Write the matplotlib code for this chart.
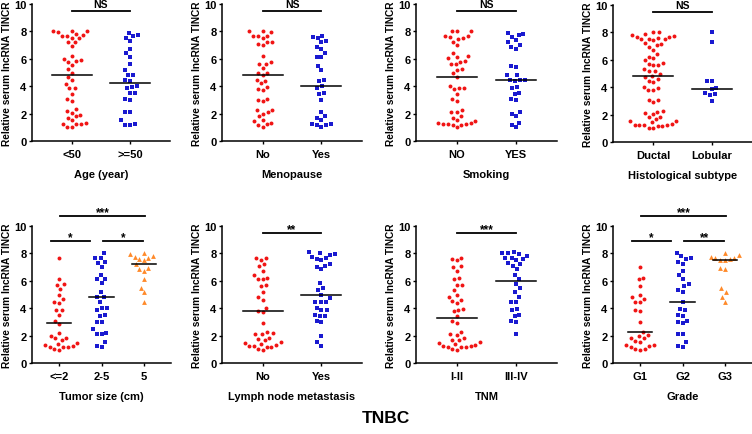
import matplotlib.pyplot as plt
import numpy as np

plt.rcParams['font.family'] = 'Liberation Sans'
plt.rcParams['font.weight'] = 'bold'
plt.rcParams['axes.labelweight'] = 'bold'

# ---- values (relative serum lncRNA TINCR) ----
# Age (year)
age_lt50 = [8.0, 7.95, 8.0, 8.05, 7.8, 7.75, 7.7, 7.7, 7.5, 7.55, 7.25, 7.2, 6.9, 6.2, 5.9, 6.0,
            5.85, 5.75, 5.55, 5.25, 4.95, 4.65, 4.45, 4.15, 3.85, 3.85, 3.45, 3.1, 2.95, 2.3, 2.2,
            2.05, 1.9, 1.8, 1.7, 1.5, 1.35, 1.25, 1.25, 1.25, 1.05, 1.0]
age_ge50 = [7.85, 7.75, 7.65, 7.5, 7.3, 6.75, 6.4, 6.15, 5.6, 5.2, 4.85, 4.85, 4.45, 4.4, 4.05,
            3.95, 3.9, 3.5, 3.5, 3.05, 3.0, 2.15, 2.15, 1.5, 1.25, 1.2, 1.2]
# Menopause
meno_no = [8.05, 8.0, 7.95, 7.7, 7.65, 7.7, 7.55, 7.25, 7.2, 7.05, 7.0, 6.2, 5.75, 5.65, 5.6, 5.35,
           5.0, 4.95, 4.8, 4.4, 4.45, 4.2, 3.95, 3.8, 3.75, 3.1, 3.0, 2.95, 2.25, 2.25, 2.15, 2.0,
           1.8, 1.5, 1.45, 1.3, 1.25, 1.2, 1.0]
meno_yes = [7.7, 7.6, 7.5, 7.3, 7.2, 6.85, 6.7, 6.4, 6.15, 6.1, 5.5, 5.2, 4.45, 4.4, 4.0, 3.85,
            3.5, 3.4, 3.0, 2.15, 1.8, 1.7, 1.5, 1.25, 1.25, 1.2, 1.2, 1.0]
# Smoking
smoke_no = [8.05, 8.0, 8.0, 7.7, 7.6, 7.7, 7.55, 7.45, 7.2, 7.0, 6.4, 6.2, 6.15, 6.05, 5.85, 5.75,
            5.65, 5.65, 5.25, 5.2, 4.95, 4.65, 4.05, 3.9, 3.85, 3.8, 3.45, 3.1, 2.95, 2.25, 2.15,
            2.15, 1.8, 1.7, 1.5, 1.45, 1.35, 1.3, 1.25, 1.25, 1.25, 1.2, 1.2, 1.0]
smoke_yes = [7.85, 7.8, 7.75, 7.6, 7.35, 7.2, 7.0, 6.85, 6.75, 5.5, 5.4, 4.85, 4.8, 4.45, 4.45,
             4.45, 4.4, 3.95, 3.85, 3.5, 3.45, 3.05, 3.0, 2.15, 2.0, 1.85, 1.35, 1.15, 1.0]
# Histological subtype
ductal = [8.05, 8.0, 7.9, 7.8, 7.75, 7.7, 7.65, 7.6, 7.55, 7.5, 7.5, 7.45, 7.2, 7.1, 7.15, 6.9,
          6.75, 6.4, 6.2, 6.1, 5.95, 5.75, 5.7, 5.65, 5.6, 5.3, 5.2, 5.15, 5.0, 4.85, 4.75, 4.6,
          4.45, 4.4, 4.0, 3.95, 3.8, 3.8, 3.1, 3.05, 2.95, 2.25, 2.2, 2.15, 2.05, 1.85, 1.8, 1.7,
          1.55, 1.5, 1.45, 1.3, 1.25, 1.25, 1.25, 1.25, 1.2, 1.2, 1.05, 1.0]
lobular = [8.0, 7.3, 4.45, 4.45, 3.95, 3.9, 3.55, 3.5, 3.45, 3.0]
# Tumor size (cm)
size_le2 = [7.7, 6.1, 5.75, 5.7, 5.4, 4.95, 4.7, 4.4, 4.45, 3.9, 3.85, 3.5, 3.1, 2.85, 2.2, 2.0,
            1.8, 1.85, 1.65, 1.4, 1.45, 1.35, 1.25, 1.2, 1.2, 1.2, 1.0, 0.95]
size_2_5 = [8.0, 7.65, 7.65, 7.35, 7.3, 7.0, 6.4, 6.15, 6.1, 5.85, 5.2, 4.8, 4.8, 4.45, 4.0, 4.0,
            3.85, 3.5, 3.45, 3.0, 3.0, 2.45, 2.2, 2.15, 2.15, 1.5, 1.25, 1.2]
size_5 = [8.05, 7.95, 7.8, 7.75, 7.65, 7.6, 7.5, 7.2, 6.9, 6.85, 6.75, 6.15, 5.5, 5.15, 4.45]
# Lymph node metastasis
lymph_no = [7.7, 7.65, 7.55, 7.2, 7.05, 6.75, 6.4, 6.2, 6.1, 6.1, 5.7, 5.65, 5.2, 4.8, 4.6, 4.05,
            3.8, 3.75, 2.9, 2.25, 2.2, 2.15, 2.1, 1.85, 1.75, 1.7, 1.5, 1.45, 1.4, 1.3, 1.25,
            1.25, 1.2, 1.2, 1.0, 0.95]
lymph_yes = [8.1, 8.0, 7.95, 7.9, 7.75, 7.7, 7.6, 7.55, 7.25, 7.1, 7.0, 6.85, 5.85, 5.45, 5.3,
             4.95, 4.75, 4.45, 4.45, 4.45, 4.0, 3.9, 3.85, 3.5, 3.45, 3.45, 3.05, 3.0, 2.0, 1.5,
             1.25]
# TNM
tnm_12 = [7.7, 7.6, 7.5, 7.05, 7.0, 6.75, 6.2, 6.1, 5.7, 5.7, 5.35, 5.0, 4.8, 4.6, 4.5, 4.35,
          3.95, 3.9, 3.8, 3.45, 3.1, 2.95, 2.25, 2.15, 2.05, 1.85, 1.7, 1.65, 1.5, 1.45, 1.4,
          1.3, 1.25, 1.2, 1.2, 1.2, 1.25, 1.0, 0.95]
tnm_34 = [8.1, 8.05, 7.95, 8.0, 7.8, 7.7, 7.65, 7.6, 7.55, 7.3, 7.2, 7.05, 6.85, 6.4, 6.1, 5.75,
          5.45, 5.2, 4.85, 4.45, 4.45, 3.95, 3.85, 3.5, 3.45, 3.05, 3.0, 2.15]
# Grade
grade_1 = [7.0, 6.2, 6.1, 5.65, 4.95, 4.8, 4.7, 4.45, 4.45, 3.85, 3.8, 3.0, 2.25, 2.05, 2.0, 1.8,
           1.85, 1.6, 1.55, 1.35, 1.35, 1.25, 1.2, 1.05, 1.0, 0.95]
grade_2 = [8.0, 7.8, 7.65, 7.6, 7.35, 7.25, 6.75, 6.4, 6.1, 5.75, 5.65, 5.35, 5.2, 4.45, 3.95,
           3.85, 3.5, 3.45, 3.1, 3.0, 2.95, 2.15, 2.15, 1.5, 1.25, 1.2]
grade_3 = [8.05, 7.9, 7.75, 7.7, 7.65, 7.6, 7.55, 7.5, 6.9, 6.85, 5.45, 5.2, 4.85, 4.45]

# median lines as drawn in the figure
medians = [[4.8, 4.25], [4.85, 4.0], [4.65, 4.45], [4.85, 3.9],
           [2.9, 4.8, 7.25], [3.8, 4.95], [3.3, 6.0], [2.25, 4.45, 7.5]]

xlabels = ['Age (year)', 'Menopause', 'Smoking', 'Histological subtype',
           'Tumor size (cm)', 'Lymph node metastasis', 'TNM', 'Grade']
categories = [['<50', '>=50'], ['No', 'Yes'], ['NO', 'YES'], ['Ductal', 'Lobular'],
              ['<=2', '2-5', '5'], ['No', 'Yes'], ['I-II', 'III-IV'], ['G1', 'G2', 'G3']]
groups = [[age_lt50, age_ge50], [meno_no, meno_yes], [smoke_no, smoke_yes], [ductal, lobular],
          [size_le2, size_2_5, size_5], [lymph_no, lymph_yes], [tnm_12, tnm_34],
          [grade_1, grade_2, grade_3]]
# significance: (group a, group b, label)
tests = [[(0, 1, 'NS')], [(0, 1, 'NS')], [(0, 1, 'NS')], [(0, 1, 'NS')],
         [(0, 1, '*'), (1, 2, '*'), (0, 2, '***')], [(0, 1, '**')], [(0, 1, '***')],
         [(0, 1, '*'), (1, 2, '**'), (0, 2, '***')]]

colors = ['#f01414', '#1a1ad0', '#ff8a2a']
markers = ['o', 's', '^']

W, H = 752, 435
# axes extents in pixels: (left, right, y of value 0, y of value 10)
boxes = [(32, 170, 142, 5), (222, 362, 142, 5), (416, 557, 142, 5), (613, 752, 143, 6),
         (32, 171, 364, 227), (222, 362, 364, 227), (416, 557, 364, 227), (613, 752, 364, 227)]


def swarm(vals, ux, uy, dx=4.8, dy=6.5):
    # beeswarm with an elliptical keep-out zone (dx wide, dy tall, in pixels)
    vals = np.asarray(vals)
    placed = []
    offs = np.zeros(len(vals))
    for i in np.argsort(vals):
        y = vals[i] * uy
        spans = []
        for px, py in placed:
            t = abs(py - y) / dy
            if t < 1:
                w = dx * np.sqrt(1 - t * t)
                spans.append((px - w, px + w))
        cands = [0.0] + [e for s in spans for e in s]
        cands.sort(key=lambda c: (abs(c), c))
        for c in cands:
            if all(not (lo + 1e-6 < c < hi - 1e-6) for lo, hi in spans):
                break
        placed.append((c, y))
        offs[i] = c / ux
    return offs


fig = plt.figure(figsize=(W / 100, H / 100), dpi=100)

for k in range(8):
    x0, x1, yb, yt = boxes[k]
    ax = fig.add_axes([x0 / W, 1 - yb / H, (x1 - x0) / W, (yb - yt) / H])
    n = len(categories[k])
    m = 0.69 if n == 2 else 0.64
    ax.set_xlim(-m, n - 1 + m)
    ax.set_ylim(0, 10)
    ux = (x1 - x0) / (n - 1 + 2 * m)
    uy = (yb - yt) / 10.0

    for g in range(n):
        vals = groups[k][g]
        xs = g + swarm(vals, ux, uy)
        ms = 9 if markers[g] == 's' else (12 if markers[g] == '^' else 8)
        ax.scatter(xs, vals, s=ms, marker=markers[g], color=colors[g], linewidths=0,
                   clip_on=False, zorder=3)
        hw = 0.34 if n == 2 else 0.29
        ax.plot([g - hw, g + hw], [medians[k][g]] * 2, color='black', lw=1.1, zorder=4)

    for a, b, lab in tests[k]:
        if n == 2:
            xa, xb, yy = a, b, 9.5
        elif b - a == 2:
            xa, xb, yy = a + 0.03, b + 0.03, 10.75
        elif a == 0:
            xa, xb, yy = -0.2, 0.72, 8.9
        else:
            xa, xb, yy = 1.04, 1.99, 8.9
        ax.plot([xa, xb], [yy, yy], color='black', lw=1.3, clip_on=False)
        if lab == 'NS':
            ax.annotate(lab, ((xa + xb) / 2, yy), xytext=(0, 1.5), textcoords='offset points',
                        ha='center', va='bottom', fontsize=7.5, annotation_clip=False)
        else:
            ax.annotate(lab, ((xa + xb) / 2, yy), xytext=(0, -1.5), textcoords='offset points',
                        ha='center', va='bottom', fontsize=8.5, annotation_clip=False)

    ax.set_xticks(range(n))
    ax.set_xticklabels(categories[k], fontsize=8)
    ax.set_yticks([0, 2, 4, 6, 8, 10])
    ax.tick_params(axis='y', labelsize=8, length=2.5, width=1, pad=1.5)
    ax.tick_params(axis='x', length=2.5, width=1, pad=3)
    for s in ['top', 'right']:
        ax.spines[s].set_visible(False)
    for s in ['left', 'bottom']:
        ax.spines[s].set_linewidth(1.1)
    ax.set_ylabel('Relative serum lncRNA TINCR', fontsize=7.3)
    ax.yaxis.set_label_coords(-20 / (x1 - x0), 0.5)
    ax.set_xlabel(xlabels[k], fontsize=8)
    ax.xaxis.set_label_coords(0.5, -28 / (yb - yt))

fig.text(0.513, 0.039, 'TNBC', ha='center', va='center', fontsize=12.5, fontweight='bold')

fig.savefig('out.png', dpi=100)
